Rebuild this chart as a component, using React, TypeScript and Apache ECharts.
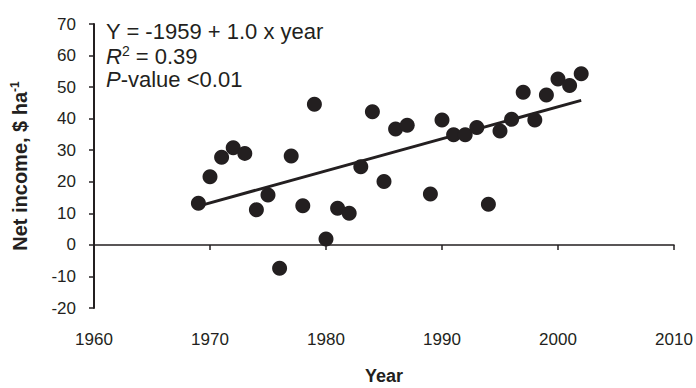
import React, { useEffect, useRef } from "react";
import * as echarts from "echarts";

const years = [
  1969, 1970, 1971, 1972, 1973, 1974, 1975, 1976, 1977, 1978, 1979, 1980,
  1981, 1982, 1983, 1984, 1985, 1986, 1987, 1989, 1990, 1991, 1992, 1993,
  1994, 1995, 1996, 1997, 1998, 1999, 2000, 2001, 2002,
];
const netIncome = [
  13.2, 21.6, 27.8, 30.8, 29.0, 11.1, 15.8, -7.4, 28.2, 12.4, 44.6, 1.9,
  11.6, 10.0, 24.8, 42.2, 20.1, 36.7, 37.9, 16.1, 39.6, 34.9, 34.9, 37.2,
  12.9, 36.1, 39.8, 48.4, 39.6, 47.5, 52.6, 50.5, 54.2,
];
const trendYears = [1969, 2002];
const trendValues = [12.3, 45.8];

const xMin = 1960;
const xMax = 2010;
const xStep = 10;
const yMin = -20;
const yMax = 70;
const yStep = 10;

const equationText = "Y = -1959 + 1.0 x year";
const r2Text = " = 0.39";
const pText = "-value <0.01";
const xName = "Year";
const yName = "Net income, $ ha";

const INK = "#231f20";
const FONT = "'Liberation Sans', Arial, Helvetica, sans-serif";

export default function App() {
  const ref = useRef<HTMLDivElement>(null);

  useEffect(() => {
    if (!ref.current) return;
    const chart = echarts.init(ref.current, undefined, { renderer: "svg" });
    const points = years.map((y, i) => [y, netIncome[i]]);
    const trend = trendYears.map((y, i) => [y, trendValues[i]]);

    chart.setOption({
      animation: false,
      backgroundColor: "#ffffff",
      textStyle: { fontFamily: FONT },
      grid: { left: 94, right: 22, top: 24, bottom: 80, containLabel: false },
      xAxis: [
        {
          type: "value",
          min: xMin,
          max: xMax,
          interval: xStep,
          position: "bottom",
          axisLine: { show: true, onZero: true, lineStyle: { color: INK, width: 1.5 } },
          axisTick: { show: true, length: 5, lineStyle: { color: INK, width: 1.5 } },
          axisLabel: { show: false },
          splitLine: { show: false },
        },
        {
          type: "value",
          min: xMin,
          max: xMax,
          interval: xStep,
          position: "bottom",
          axisLine: { show: false, onZero: false },
          axisTick: { show: false },
          axisLabel: {
            show: true,
            margin: 23,
            fontSize: 17,
            color: INK,
            fontFamily: FONT,
            showMinLabel: true,
            showMaxLabel: true,
            formatter: (v: number) => String(v),
          },
          splitLine: { show: false },
        },
      ],
      yAxis: {
        type: "value",
        min: yMin,
        max: yMax,
        interval: yStep,
        axisLine: { show: true, onZero: false, lineStyle: { color: INK, width: 2 } },
        axisTick: { show: true, length: 5, lineStyle: { color: INK, width: 1.5 } },
        axisLabel: {
          margin: 18,
          fontSize: 17,
          color: INK,
          fontFamily: FONT,
          showMinLabel: true,
          showMaxLabel: true,
          formatter: (v: number) => String(v),
        },
        splitLine: { show: false },
      },
      series: [
        {
          type: "line",
          xAxisIndex: 0,
          data: trend,
          symbol: "none",
          lineStyle: { color: INK, width: 3 },
          z: 2,
        },
        {
          type: "scatter",
          xAxisIndex: 0,
          data: points,
          symbol: "circle",
          symbolSize: 15,
          itemStyle: { color: INK, opacity: 1 },
          z: 3,
        },
      ],
      graphic: [
        {
          type: "text",
          left: 106,
          top: 20,
          style: { text: equationText, fontSize: 22, fontFamily: FONT, fill: INK },
        },
        {
          type: "text",
          left: 106,
          top: 44,
          style: {
            text: "{i|R}{sup|2}{n|" + r2Text + "}",
            fontFamily: FONT,
            fill: INK,
            rich: {
              i: { fontSize: 22, fontStyle: "italic", fontFamily: FONT, fill: INK, lineHeight: 24 },
              sup: { fontSize: 14, fontFamily: FONT, fill: INK, verticalAlign: "top", lineHeight: 14 },
              n: { fontSize: 22, fontFamily: FONT, fill: INK, lineHeight: 24 },
            },
          },
        },
        {
          type: "text",
          left: 106,
          top: 68,
          style: {
            text: "{i|P}{n|" + pText + "}",
            fontFamily: FONT,
            fill: INK,
            rich: {
              i: { fontSize: 22, fontStyle: "italic", fontFamily: FONT, fill: INK, lineHeight: 24 },
              n: { fontSize: 22, fontFamily: FONT, fill: INK, lineHeight: 24 },
            },
          },
        },
        {
          type: "text",
          x: 384,
          y: 376,
          style: {
            text: xName,
            fontSize: 18,
            fontWeight: "bold",
            fontFamily: FONT,
            fill: INK,
            align: "center",
            verticalAlign: "middle",
          },
        },
        {
          type: "text",
          x: 20,
          y: 166,
          rotation: Math.PI / 2,
          style: {
            text: "{n|" + yName + "}{sup|-1}",
            fontFamily: FONT,
            fill: INK,
            align: "center",
            verticalAlign: "middle",
            rich: {
              n: { fontSize: 20, fontWeight: "bold", fontFamily: FONT, fill: INK, lineHeight: 22 },
              sup: { fontSize: 12, fontWeight: "bold", fontFamily: FONT, fill: INK, verticalAlign: "top", lineHeight: 12 },
            },
          },
        },
      ],
    });

    return () => chart.dispose();
  }, []);

  return (
    <div
      ref={ref}
      style={{ position: "absolute", left: 0, top: 0, width: 696, height: 388 }}
    />
  );
}
